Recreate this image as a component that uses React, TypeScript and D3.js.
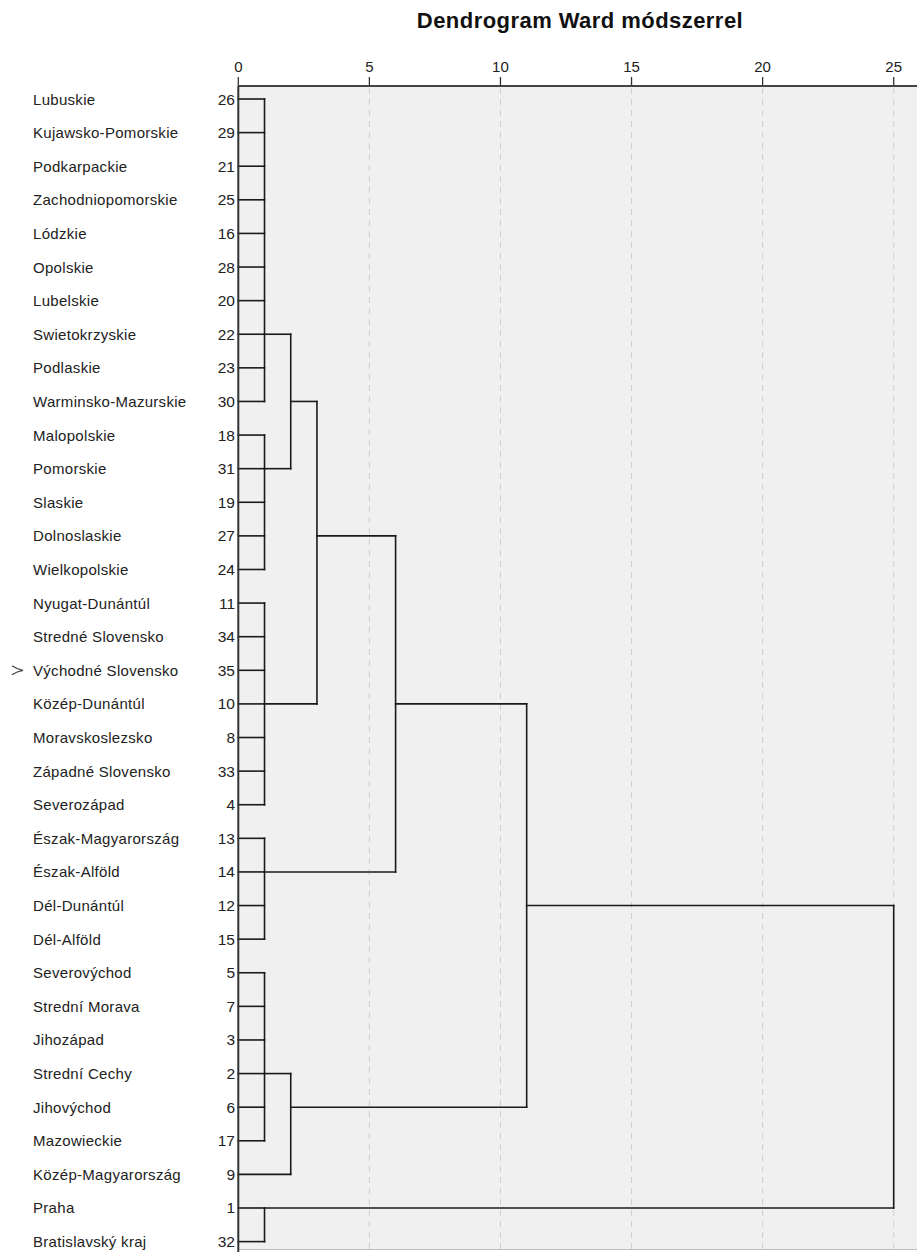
import React from "react";
import * as d3 from "d3";

const title = "Dendrogram Ward módszerrel";

const regionLabels = [
  "Lubuskie", "Kujawsko-Pomorskie", "Podkarpackie", "Zachodniopomorskie", "Lódzkie",
  "Opolskie", "Lubelskie", "Swietokrzyskie", "Podlaskie", "Warminsko-Mazurskie",
  "Malopolskie", "Pomorskie", "Slaskie", "Dolnoslaskie", "Wielkopolskie",
  "Nyugat-Dunántúl", "Stredné Slovensko", "Východné Slovensko", "Közép-Dunántúl", "Moravskoslezsko",
  "Západné Slovensko", "Severozápad", "Észak-Magyarország", "Észak-Alföld", "Dél-Dunántúl",
  "Dél-Alföld", "Severovýchod", "Strední Morava", "Jihozápad", "Strední Cechy",
  "Jihovýchod", "Mazowieckie", "Közép-Magyarország", "Praha", "Bratislavský kraj",
];

const caseNumbers = [26, 29, 21, 25, 16, 28, 20, 22, 23, 30, 18, 31, 19, 27, 24, 11, 34, 35, 10, 8, 33, 4, 13, 14, 12, 15, 5, 7, 3, 2, 6, 17, 9, 1, 32];

const markedCase = 35;

const axisTicks = [0, 5, 10, 15, 20, 25];

// leaf-level clusters (all leaves joined at the same rescaled distance)
const leafClusterIds = ["A", "B", "C", "D", "E", "F", "L9"];
const leafClusterFirst = [0, 10, 15, 22, 26, 33, 32];
const leafClusterLast = [9, 14, 21, 25, 31, 34, 32];
const leafClusterLink = [7, 11, 18, 23, 29, 33, 32];
const leafClusterHeight = [1, 1, 1, 1, 1, 1, 0];

// higher-level merges
const mergeLeft = ["A", "AB", "ABC", "E", "ABCD", "ABCDE9"];
const mergeRight = ["B", "C", "D", "L9", "E9", "F"];
const mergeName = ["AB", "ABC", "ABCD", "E9", "ABCDE9", "ALL"];
const mergeHeight = [2, 3, 6, 2, 11, 25];

const W = 917;
const H = 1252;
const plotLeft = 238.3;
const axisY = 86;

export default function App() {
  const x = d3.scaleLinear().domain([0, 25]).range([plotLeft, 893.7]);
  const y = d3.scaleLinear().domain([0, 34]).range([99, 1241.6]);

  const nodes: Record<string, { h: number; row: number }> = {};
  const segs: { x1: number; y1: number; x2: number; y2: number }[] = [];

  leafClusterIds.forEach((id, i) => {
    const h = leafClusterHeight[i];
    nodes[id] = { h, row: leafClusterLink[i] };
    if (h > 0) {
      for (let r = leafClusterFirst[i]; r <= leafClusterLast[i]; r++) {
        segs.push({ x1: x(0), y1: y(r), x2: x(h), y2: y(r) });
      }
      segs.push({ x1: x(h), y1: y(leafClusterFirst[i]), x2: x(h), y2: y(leafClusterLast[i]) });
    }
  });

  mergeName.forEach((name, i) => {
    const l = nodes[mergeLeft[i]];
    const r = nodes[mergeRight[i]];
    const h = mergeHeight[i];
    segs.push({ x1: x(l.h), y1: y(l.row), x2: x(h), y2: y(l.row) });
    segs.push({ x1: x(r.h), y1: y(r.row), x2: x(h), y2: y(r.row) });
    segs.push({ x1: x(h), y1: y(l.row), x2: x(h), y2: y(r.row) });
    nodes[name] = { h, row: Math.floor((l.row + r.row) / 2) };
  });

  const font = "'Liberation Sans', Arial, sans-serif";

  return (
    <svg width={W} height={H} style={{ display: "block", position: "absolute", left: 0, top: 0, background: "#fff" }}>
      <text x={580} y={28} textAnchor="middle" fontFamily={font} fontWeight="bold" fontSize={22} letterSpacing={0.45} fill="#111">
        {title}
      </text>

      <rect x={plotLeft} y={axisY} width={W - plotLeft} height={1249 - axisY} fill="#f0f0f0" />
      <line x1={plotLeft} x2={W} y1={1249.5} y2={1249.5} stroke="#bdbdbd" strokeWidth={1} />

      {axisTicks.slice(1).map((t) => (
        <line key={"g" + t} x1={x(t)} x2={x(t)} y1={axisY + 2} y2={H} stroke="#cfcfcf" strokeWidth={1} strokeDasharray="6,5" />
      ))}

      {axisTicks.map((t) => (
        <g key={"t" + t}>
          <line x1={x(t)} x2={x(t)} y1={77} y2={axisY} stroke="#333" strokeWidth={1.3} />
          <text x={x(t)} y={71.5} textAnchor="middle" fontFamily={font} fontSize={15} fill="#222">
            {t}
          </text>
        </g>
      ))}
      <line x1={plotLeft} x2={W} y1={axisY} y2={axisY} stroke="#444" strokeWidth={2} />

      {regionLabels.map((lab, i) => (
        <g key={"l" + i}>
          {caseNumbers[i] === markedCase && (
            <path d={`M12,${y(i) - 4.5} Q17,${y(i) - 1} 23,${y(i)} Q17,${y(i) + 1} 12,${y(i) + 4.5}`} fill="none" stroke="#444" strokeWidth={1.2} />
          )}
          <text x={33} y={y(i) + 5.5} fontFamily={font} fontSize={15} letterSpacing={0.3} fill="#222">
            {lab}
          </text>
          <text x={235} y={y(i) + 5.5} textAnchor="end" fontFamily={font} fontSize={15.5} fill="#222">
            {caseNumbers[i]}
          </text>
        </g>
      ))}

      {segs.map((s, i) => (
        <line key={"s" + i} x1={s.x1} y1={s.y1} x2={s.x2} y2={s.y2} stroke="#1a1a1a" strokeWidth={1.6} strokeLinecap="square" />
      ))}

      <line x1={plotLeft} x2={plotLeft} y1={axisY} y2={H} stroke="#333" strokeWidth={2} />
    </svg>
  );
}
